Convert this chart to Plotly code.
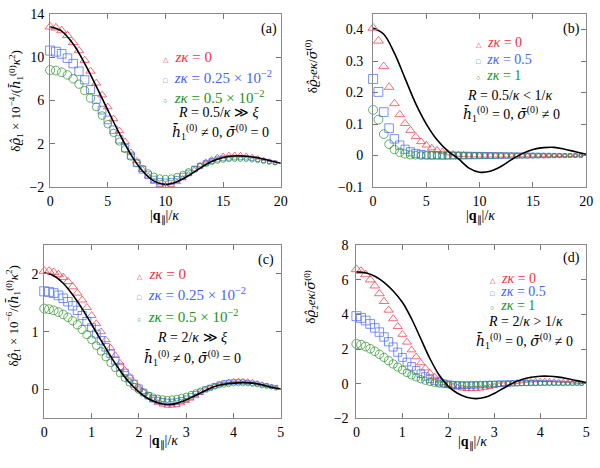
import plotly.graph_objects as go

# ---------------- data ----------------
Q_AB = [0.0, 0.5, 1.0, 1.5, 2.0, 2.5, 3.0, 3.5, 4.0, 4.5, 5.0, 5.5, 6.0, 6.5, 7.0, 7.5,
        8.0, 8.5, 9.0, 9.5, 10.0, 10.5, 11.0, 11.5, 12.0, 12.5, 13.0, 13.5, 14.0, 14.5,
        15.0, 15.5, 16.0, 16.5, 17.0, 17.5, 18.0, 18.5, 19.0, 19.5]
Q_CD = [0.0, 0.1, 0.2, 0.3, 0.4, 0.5, 0.6, 0.7, 0.8, 0.9, 1.0, 1.1, 1.2, 1.3, 1.4, 1.5,
        1.6, 1.7, 1.8, 1.9, 2.0, 2.1, 2.2, 2.3, 2.4, 2.5, 2.6, 2.7, 2.8, 2.9, 3.0, 3.1,
        3.2, 3.3, 3.4, 3.5, 3.6, 3.7, 3.8, 3.9, 4.0, 4.1, 4.2, 4.3, 4.4, 4.5, 4.6, 4.7,
        4.8, 4.9]

LX_AB = [0, 1, 2, 3, 4, 5, 6, 7, 8, 9, 10, 11, 12, 13, 14, 15, 16, 17, 18, 19, 20]
LX_CD = [0.0, 0.2, 0.4, 0.6, 0.8, 1.0, 1.2, 1.4, 1.6, 1.8, 2.0, 2.2, 2.4, 2.6, 2.8, 3.0,
         3.2, 3.4, 3.6, 3.8, 4.0, 4.2, 4.4, 4.6, 4.8, 5.0]

# panel (a)
LINE_A = [12.8, 12.4, 11.2, 9.4, 7.3, 5.1, 2.95, 1.0, -0.5, -1.45, -1.75, -1.5, -0.95,
          -0.25, 0.35, 0.72, 0.87, 0.85, 0.7, 0.45, 0.2]
RED_A = [12.8, 12.7, 12.45, 12.0, 11.35, 10.6, 9.7, 8.7, 7.6, 6.5, 5.4, 4.3, 3.2, 2.2,
         1.2, 0.4, -0.4, -1.0, -1.5, -1.8, -1.9, -1.8, -1.55, -1.2, -0.8, -0.4, 0.0, 0.35,
         0.6, 0.8, 0.92, 1.0, 1.02, 1.0, 0.95, 0.85, 0.72, 0.58, 0.45, 0.32]
BLUE_A = [10.6, 10.5, 10.3, 9.9, 9.4, 8.7, 7.9, 7.0, 6.1, 5.1, 4.2, 3.3, 2.4, 1.6, 0.9,
          0.2, -0.4, -0.9, -1.3, -1.5, -1.55, -1.5, -1.3, -1.0, -0.7, -0.35, -0.05, 0.2,
          0.4, 0.55, 0.65, 0.7, 0.72, 0.72, 0.7, 0.63, 0.55, 0.45, 0.35, 0.25]
GREEN_A = [8.8, 8.75, 8.6, 8.35, 8.0, 7.5, 6.9, 6.2, 5.4, 4.6, 3.8, 3.0, 2.2, 1.5, 0.8,
           0.2, -0.3, -0.7, -1.0, -1.15, -1.2, -1.15, -1.0, -0.8, -0.55, -0.3, -0.05,
           0.15, 0.3, 0.42, 0.5, 0.55, 0.57, 0.57, 0.55, 0.5, 0.43, 0.35, 0.27, 0.2]

# panel (b)
LINE_B = [0.405, 0.385, 0.325, 0.245, 0.165, 0.1, 0.05, 0.015, -0.01, -0.04, -0.053,
          -0.05, -0.035, -0.013, 0.006, 0.019, 0.025, 0.026, 0.02, 0.012, 0.004]
RED_B = [0.405, 0.364, 0.283, 0.217, 0.165, 0.13, 0.102, 0.08, 0.06, 0.044, 0.033, 0.024,
         0.017, 0.012, 0.008, 0.005, 0.003, 0.002, 0.001, 0.001, 0, 0, 0, 0, 0, 0, 0, 0,
         0, 0, 0, 0, 0, 0, 0, 0, 0, 0, 0, 0]
BLUE_B = [0.243, 0.202, 0.138, 0.087, 0.053, 0.033, 0.02, 0.012, 0.007, 0.004, 0.002,
          0.001, 0.001, 0, 0, 0, 0, 0, 0, 0, 0, 0, 0, 0, 0, 0, 0, 0, 0, 0, 0, 0, 0, 0,
          0, 0, 0, 0, 0, 0]
GREEN_B = [0.145, 0.114, 0.068, 0.036, 0.019, 0.01, 0.005, 0.002, 0.001, 0, 0, 0, 0, 0,
           0, 0, 0, 0, 0, 0, 0, 0, 0, 0, 0, 0, 0, 0, 0, 0, 0, 0, 0, 0, 0, 0, 0, 0, 0, 0]

# panel (c)
LINE_C = [2.02, 1.97, 1.84, 1.64, 1.4, 1.13, 0.85, 0.58, 0.33, 0.12, -0.04, -0.16, -0.23,
          -0.26, -0.24, -0.18, -0.1, -0.02, 0.05, 0.09, 0.11, 0.12, 0.11, 0.08, 0.04, 0.01]
RED_C = [2.05, 2.05, 2.03, 1.99, 1.94, 1.87, 1.78, 1.67, 1.55, 1.42, 1.28, 1.14, 1.0,
         0.86, 0.72, 0.59, 0.46, 0.34, 0.23, 0.13, 0.04, -0.04, -0.12, -0.18, -0.23,
         -0.26, -0.28, -0.28, -0.27, -0.24, -0.2, -0.16, -0.11, -0.06, -0.01, 0.03, 0.07,
         0.1, 0.12, 0.14, 0.15, 0.155, 0.155, 0.15, 0.14, 0.12, 0.1, 0.08, 0.06, 0.04]
BLUE_C = [1.7, 1.69, 1.67, 1.63, 1.58, 1.52, 1.45, 1.37, 1.28, 1.18, 1.07, 0.96, 0.85,
          0.73, 0.62, 0.5, 0.39, 0.29, 0.19, 0.1, 0.02, -0.05, -0.11, -0.16, -0.19,
          -0.21, -0.22, -0.22, -0.21, -0.19, -0.16, -0.12, -0.08, -0.04, 0.0, 0.03, 0.06,
          0.09, 0.11, 0.12, 0.13, 0.13, 0.13, 0.12, 0.11, 0.1, 0.08, 0.07, 0.05, 0.04]
GREEN_C = [1.4, 1.39, 1.37, 1.34, 1.3, 1.25, 1.19, 1.12, 1.04, 0.95, 0.86, 0.76, 0.66,
           0.56, 0.46, 0.37, 0.28, 0.2, 0.12, 0.05, -0.01, -0.06, -0.1, -0.13, -0.15,
           -0.16, -0.17, -0.16, -0.15, -0.13, -0.11, -0.08, -0.05, -0.02, 0.01, 0.03,
           0.05, 0.07, 0.08, 0.09, 0.1, 0.1, 0.1, 0.1, 0.09, 0.08, 0.06, 0.05, 0.04, 0.02]

# panel (d)
LINE_D = [6.45, 6.4, 6.2, 5.85, 5.35, 4.7, 3.75, 2.6, 1.45, 0.5, -0.15, -0.55, -0.78,
          -0.86, -0.78, -0.56, -0.26, 0.03, 0.24, 0.37, 0.43, 0.43, 0.38, 0.29, 0.18, 0.07]
RED_D = [6.6, 6.5, 6.3, 6.0, 5.65, 5.2, 4.75, 4.25, 3.75, 3.3, 2.85, 2.4, 1.95, 1.55,
         1.2, 0.9, 0.62, 0.4, 0.2, 0.05, -0.07, -0.16, -0.22, -0.27, -0.3, -0.31, -0.3,
         -0.28, -0.24, -0.19, -0.14, -0.08, -0.03, 0.02, 0.06, 0.1, 0.13, 0.15, 0.17,
         0.18, 0.19, 0.19, 0.18, 0.17, 0.16, 0.14, 0.12, 0.1, 0.08, 0.06]
BLUE_D = [3.9, 3.8, 3.65, 3.45, 3.22, 2.98, 2.7, 2.42, 2.12, 1.82, 1.52, 1.25, 1.0, 0.78,
          0.58, 0.42, 0.28, 0.17, 0.08, 0.02, -0.03, -0.06, -0.08, -0.09, -0.09, -0.09,
          -0.08, -0.07, -0.06, -0.04, -0.03, -0.01, 0.0, 0.01, 0.02, 0.03, 0.04, 0.04,
          0.05, 0.05, 0.05, 0.05, 0.05, 0.04, 0.04, 0.03, 0.03, 0.02, 0.02, 0.01]
GREEN_D = [2.3, 2.25, 2.15, 2.02, 1.87, 1.7, 1.52, 1.33, 1.14, 0.96, 0.79, 0.63, 0.49,
           0.37, 0.26, 0.17, 0.1, 0.04, 0.0, -0.03, -0.05, -0.06, -0.06, -0.06, -0.05,
           -0.04, -0.03, -0.02, -0.01, 0.0, 0.0, 0.01, 0.01, 0.01, 0.02, 0.02, 0.02, 0.02,
           0.02, 0.02, 0.02, 0.02, 0.02, 0.02, 0.01, 0.01, 0.01, 0.01, 0.01, 0.0]

LEG_AC = ["<i>zκ</i> = 0", "<i>zκ</i> = 0.25 × 10<sup>−2</sup>", "<i>zκ</i> = 0.5 × 10<sup>−2</sup>"]
LEG_BD = ["<i>zκ</i> = 0", "<i>zκ</i> = 0.5", "<i>zκ</i> = 1"]

# ---------------- style ----------------
RED = "rgb(240,50,70)"
BLUE = "rgb(70,100,245)"
GREEN = "rgb(35,145,35)"
COLORS = [RED, BLUE, GREEN]
SYMBOLS = ["triangle-up-open", "square-open", "circle-open"]
GLYPHS = ["△", "□", "○"]
FONT = "Liberation Serif"
W, H = 600, 468


def px(x):
    return x / W


def py(y):
    return 1 - y / H


fig = go.Figure()

panels = [
    dict(k="", q=Q_AB, lx=LX_AB, ly=LINE_A, s=[RED_A, BLUE_A, GREEN_A], qmax=20),
    dict(k="2", q=Q_AB, lx=LX_AB, ly=LINE_B, s=[RED_B, BLUE_B, GREEN_B], qmax=20),
    dict(k="3", q=Q_CD, lx=LX_CD, ly=LINE_C, s=[RED_C, BLUE_C, GREEN_C], qmax=5),
    dict(k="4", q=Q_CD, lx=LX_CD, ly=LINE_D, s=[RED_D, BLUE_D, GREEN_D], qmax=5),
]

for p in panels:
    xa, ya = "x" + p["k"], "y" + p["k"]
    sizes = [9 - 5.5 * v / p["qmax"] for v in p["q"]]
    for vals, col, sym in zip(p["s"], COLORS, SYMBOLS):
        fig.add_trace(go.Scatter(
            x=p["q"], y=vals, mode="markers", xaxis=xa, yaxis=ya, showlegend=False,
            cliponaxis=False,
            marker=dict(symbol=sym, size=sizes, color=col, line=dict(width=1, color=col))))
    fig.add_trace(go.Scatter(
        x=p["lx"], y=p["ly"], mode="lines", xaxis=xa, yaxis=ya, showlegend=False,
        line=dict(color="black", width=1.6, shape="spline", smoothing=1.0)))

axis_style = dict(showline=True, linecolor="#8a8a8a", linewidth=1, mirror="ticks",
                  ticks="inside", ticklen=5, tickcolor="#777", tickwidth=1,
                  showgrid=False, zeroline=False,
                  tickfont=dict(family=FONT, size=14, color="black"))

dom = {
    "a": dict(x=[px(47), px(282)], y=[py(186), py(7)]),
    "b": dict(x=[px(376), px(593)], y=[py(186), py(7)]),
    "c": dict(x=[px(41), px(282)], y=[py(425), py(246)]),
    "d": dict(x=[px(359), px(593)], y=[py(425), py(246)]),
}

fig.update_layout(
    width=W, height=H, margin=dict(l=0, r=0, t=0, b=0),
    paper_bgcolor="white", plot_bgcolor="white",
    font=dict(family=FONT, size=14, color="black"),
    xaxis=dict(domain=dom["a"]["x"], range=[0, 20], tickvals=[0, 5, 10, 15, 20],
               anchor="y", ticklabelstandoff=1, **axis_style),
    yaxis=dict(domain=dom["a"]["y"], range=[-2, 14], tickvals=[-2, 2, 6, 10, 14],
               anchor="x", ticklabelstandoff=2, **axis_style),
    xaxis2=dict(domain=dom["b"]["x"], range=[0, 20], tickvals=[0, 5, 10, 15, 20],
                anchor="y2", ticklabelstandoff=1, **axis_style),
    yaxis2=dict(domain=dom["b"]["y"], range=[-0.1, 0.45],
                tickvals=[-0.1, 0, 0.1, 0.2, 0.3, 0.4],
                ticktext=["−0.1", "0", "0.1", "0.2", "0.3", "0.4"],
                anchor="x2", ticklabelstandoff=6, **axis_style),
    xaxis3=dict(domain=dom["c"]["x"], range=[0, 5], tickvals=[0, 1, 2, 3, 4, 5],
                anchor="y3", ticklabelstandoff=1, **axis_style),
    yaxis3=dict(domain=dom["c"]["y"], range=[-0.5, 2.5], tickvals=[0, 1, 2],
                anchor="x3", ticklabelstandoff=2, **axis_style),
    xaxis4=dict(domain=dom["d"]["x"], range=[0, 5], tickvals=[0, 1, 2, 3, 4, 5],
                anchor="y4", ticklabelstandoff=1, **axis_style),
    yaxis4=dict(domain=dom["d"]["y"], range=[-2, 8], tickvals=[-2, 0, 2, 4, 6, 8],
                ticktext=["−2", "0", "2", "4", "6", "8"],
                anchor="x4", ticklabelstandoff=4, **axis_style),
)

ann = []


def add_text(text, x, y, size=14, color="black", xanchor="center", angle=0):
    ann.append(dict(text=text, x=px(x), y=py(y), xref="paper", yref="paper",
                    showarrow=False, xanchor=xanchor, yanchor="middle",
                    textangle=angle, font=dict(family=FONT, size=size, color=color)))


def dv(s):
    return "<span style='font-family:DejaVu Serif;font-style:italic'>" + s + "</span>"


RHO = dv("ϱ̂")
HB = dv("h̄")
SB = dv("σ̄")
# y-axis titles
YT_A = "δ" + RHO + "<sub>1</sub> × 10<sup>−4</sup>/(" + HB + "<sub>1</sub><sup>(0)</sup><i>κ</i><sup>2</sup>)"
YT_C = "δ" + RHO + "<sub>1</sub> × 10<sup>−6</sup>/(" + HB + "<sub>1</sub><sup>(0)</sup><i>κ</i><sup>2</sup>)"
YT_B = "δ" + RHO + "<sub>2</sub><i>eκ</i>/" + SB + "<sup>(0)</sup>"
add_text(YT_A, 12, 97, size=13, angle=-90)
add_text(YT_B, 314, 62, size=13, angle=-90)
add_text(YT_C, 9, 319, size=13, angle=-90)
add_text(YT_B, 313, 300, size=13, angle=-90)

# x-axis titles
XT = "|<b>q</b><sub>∥</sub>|/<i>κ</i>"
add_text(XT, 163, 217)
add_text(XT, 485, 217)
add_text(XT, 162, 449)
add_text(XT, 477, 450)

# panel labels
add_text("(a)", 270, 23)
add_text("(b)", 578, 23)
add_text("(c)", 267, 261)
add_text("(d)", 578, 259)

# legends
legs = [
    (LEG_AC, 160, [52, 72, 93], 15),
    (LEG_BD, 479, [37, 54, 71], 14),
    (LEG_AC, 133, [276, 297, 319], 15),
    (LEG_BD, 493, [280, 294, 308], 14),
]
for labels, x0, ys, fs in legs:
    for lab, col, gl, yy in zip(labels, COLORS, GLYPHS, ys):
        add_text("<span style='font-size:7px'>" + gl + "</span>  " + lab, x0, yy,
                 size=fs, color=col, xanchor="left")

# condition texts
COND_NZ_Z = HB + "<sub>1</sub><sup>(0)</sup> ≠ 0, " + SB + "<sup>(0)</sup> = 0"
COND_Z_NZ = HB + "<sub>1</sub><sup>(0)</sup> = 0, " + SB + "<sup>(0)</sup> ≠ 0"
add_text("<i>R</i> = 0.5/<i>κ</i> ≫ <i>ξ</i>", 219, 109)
add_text(COND_NZ_Z, 221, 129)
add_text("<i>R</i> = 0.5/<i>κ</i> &lt; 1/<i>κ</i>", 515, 91)
add_text(COND_Z_NZ, 517, 111)
add_text("<i>R</i> = 2/<i>κ</i> ≫ <i>ξ</i>", 192, 341)
add_text(COND_NZ_Z, 192, 363)
add_text("<i>R</i> = 2/<i>κ</i> &gt; 1/<i>κ</i>", 531, 325)
add_text(COND_Z_NZ, 530, 345)

fig.update_layout(annotations=ann)
fig.write_html("out.html", config={"displayModeBar": False},
               post_script="document.body.style.margin='0';")
